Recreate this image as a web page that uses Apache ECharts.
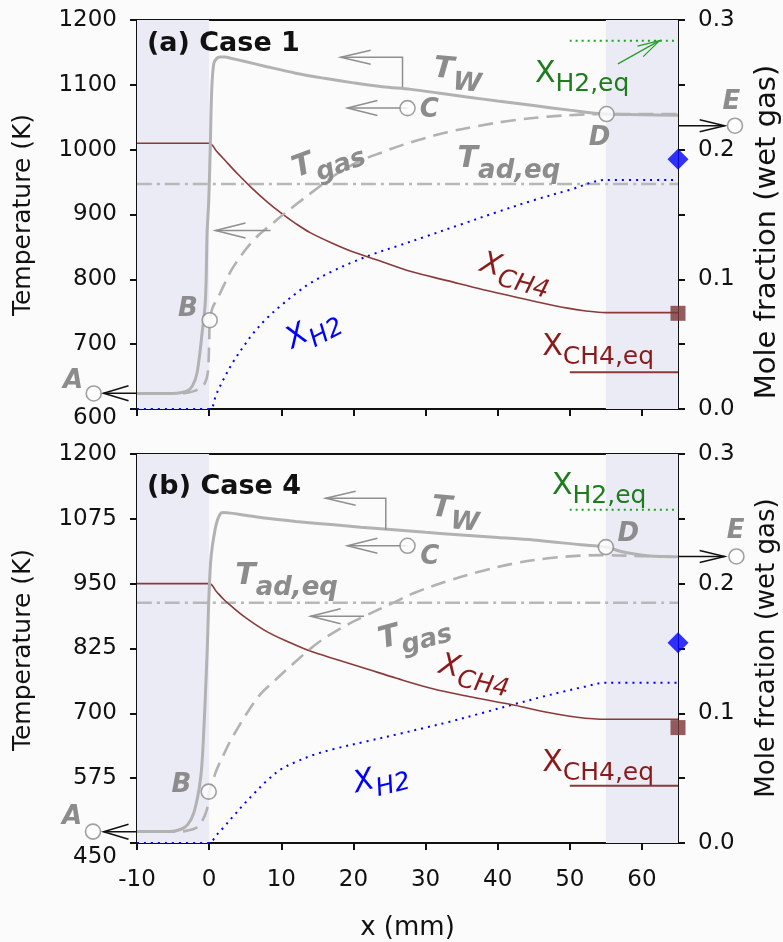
<!DOCTYPE html>
<html>
<head>
<meta charset="utf-8">
<script src="https://cdn.jsdelivr.net/npm/echarts@6/dist/echarts.min.js"></script>
<style>
html,body{margin:0;padding:0;background:#fbfbfb;}
#chart{width:783px;height:942px;}
</style>
</head>
<body>
<div id="chart"></div>
<script>
// ---------- axes ----------
const xTicks = [-10, 0, 10, 20, 30, 40, 50, 60];
const tempTicks1 = [600, 700, 800, 900, 1000, 1100, 1200];
const tempTicks2 = [450, 575, 700, 825, 950, 1075, 1200];
const moleTicks = [0, 0.05, 0.1, 0.15, 0.2, 0.25, 0.3];
const moleLabels = [0, 0.1, 0.2, 0.3];
const heatedZones = [[-10, 0], [55, 65]];

// ---------- Case 1 ----------
const wallT1 = [[-10,624],[-5,624],[-4,625],[-3,628],[-2.3,636],[-1.67,656],[-0.97,718],[-0.51,769],[-0.28,872],[-0.05,923],[0.15,1000],[0.35,1090],[0.64,1133],[1,1140],[1.5,1143],[2.2,1143],[3,1141],[5,1136],[8,1128],[12,1118],[16,1110],[20,1103],[24,1097],[28,1093],[32,1087],[36,1081],[40,1075],[45,1068],[50,1061],[55,1055],[60,1054],[65,1053]];
const gasT1 = [[-10,624],[-4,624],[-3,625],[-2,628],[-1.2,633],[-0.6,640],[-0.2,655],[0,700],[0.1,737],[0.5,757],[1.1,769],[2,790],[3.4,820],[6.2,861],[9.4,892],[12,915],[15.4,944],[18,965],[21,983],[24,996],[27,1008],[30,1018],[33,1027],[37,1036],[42,1045],[47,1051],[51.5,1054],[55,1055],[60,1055],[65,1055]];
const adEqT1 = [[-10,947],[65,947]];
const xCH4_1 = [[-10,0.205],[0,0.205],[1,0.199],[2,0.193],[4,0.181],[6,0.17],[8,0.16],[10,0.151],[12,0.143],[14,0.136],[17,0.128],[20,0.121],[24,0.1135],[28,0.106],[33,0.099],[38,0.092],[42,0.087],[46,0.082],[49.7,0.0778],[52,0.0758],[55,0.0743],[65,0.0743]];
const xH2_1 = [[-10,0],[0,0],[1,0.0115],[2,0.023],[3.4,0.037],[5,0.05],[6.2,0.059],[8,0.07],[10,0.08],[12,0.089],[14,0.097],[17,0.106],[20,0.1135],[23,0.12],[26,0.1255],[30,0.133],[35,0.1425],[40,0.152],[45,0.161],[50,0.169],[55,0.1766],[65,0.1766]];
const xCH4eq1 = [[50,0.0283],[65,0.0283]];
const xH2eq1 = [[50,0.284],[65,0.284]];
const exitH2_1 = [[65,0.1926]];
const exitCH4_1 = [[65,0.0738]];

// ---------- Case 4 ----------
const wallT2 = [[-10,472],[-5.5,472],[-4,476],[-3,485],[-2.1,509],[-1.2,573],[-0.8,650],[-0.3,810],[0.2,990],[0.9,1060],[1.5,1084],[2,1087],[3,1086],[5,1082],[8,1076],[12,1070],[17.3,1063.5],[21,1059],[24.7,1055],[30,1049],[35,1044],[40,1039],[45,1034],[51.5,1025],[55,1020.5],[57.1,1012],[59,1007],[60.8,1004],[63,1002.5],[65,1002]];
const gasT2 = [[-10,472],[-4,472],[-3,474],[-2,478],[-1.25,486],[-0.3,515],[0,549],[0.6,573],[1,590],[2,620],[3,648],[5,695],[7,735],[9,762],[12,800],[15,835],[18,862],[21.5,887],[25.5,913],[28.4,932],[33,955],[37.7,974],[42.3,989],[47,999],[51.5,1004],[55,1005],[60,1003],[65,1002]];
const adEqT2 = [[-10,913],[65,913]];
const xCH4_2 = [[-10,0.2],[0,0.2],[1,0.194],[2,0.188],[3,0.183],[5,0.174],[8,0.163],[11,0.155],[14,0.148],[18,0.141],[22,0.134],[26,0.127],[31,0.119],[36,0.113],[41.7,0.107],[47.2,0.1005],[51,0.097],[55,0.0954],[65,0.0954]];
const xH2_2 = [[-10,0],[0,0],[1,0.006],[2,0.012],[3.4,0.021],[5,0.031],[6.2,0.038],[8,0.048],[10,0.057],[12,0.0625],[14.5,0.068],[17.3,0.0725],[21.9,0.0785],[26.6,0.0845],[30,0.089],[33,0.093],[38,0.1005],[42.3,0.107],[46,0.1125],[49.3,0.117],[52,0.1205],[55,0.1236],[65,0.1236]];
const xCH4eq2 = [[50,0.0441],[65,0.0441]];
const xH2eq2 = [[50,0.257],[65,0.257]];
const exitH2_2 = [[65,0.1544]];
const exitCH4_2 = [[65,0.089]];

// ---------- state points A-E (x in mm, T in K) ----------
const stateNames = ['A', 'B', 'C', 'D', 'E'];
const stateX1 = [-16.0, 0.08, 27.5, 55.1, 72.9];
const stateT1 = [624, 737, 1064, 1055, 1037];
const stateX2 = [-16.1, -0.06, 27.5, 55.0, 73.1];
const stateT2 = [472, 549, 1023, 1020.5, 1002.5];
// where each letter sits (x in mm, T in K)
const letterPos1 = [[-18.85, 642.3], [-2.94, 753.8], [30.53, 1061.5], [54.14, 1017.7], [72.4, 1073]];
const letterPos2 = [[-18.99, 500], [-3.85, 561.5], [30.6, 1000], [58.1, 1046], [73, 1052]];

const FONT = 'DejaVu Sans';
const INK = '#111111';
const GRAY_LINE = '#b2b2b2';
const GRAY_TEXT = '#8c8c8c';
const ARROW_GRAY = '#8f8f8f';
const BROWN = '#8b3a3a';
const BROWN_TEXT = '#8b1a1a';
const BLUE = '#0000ff';
const GREEN = '#22a022';
const GREEN_TEXT = '#1e7b1e';
const BAND = '#ebebf6';

const chart = echarts.init(document.getElementById('chart'), null, {renderer: 'canvas'});

function xAxisFor(g, withLabels) {
  return {
    type: 'value', gridIndex: g, min: -10, max: 65,
    axisLine: {show: true, onZero: false, lineStyle: {color: INK, width: 2}},
    axisTick: {show: true, inside: false, length: 7, customValues: xTicks, lineStyle: {color: INK, width: 2}},
    axisLabel: {show: withLabels, customValues: xTicks, margin: 26, fontFamily: FONT, fontSize: 23, color: INK},
    splitLine: {show: false},
    name: withLabels ? 'x (mm)' : '', nameLocation: 'middle', nameGap: 72,
    nameTextStyle: {fontFamily: FONT, fontSize: 26, color: INK}
  };
}
function tempAxis(g, min, max, ticks, lowPad) {
  return {
    type: 'value', gridIndex: g, min: min, max: max, position: 'left',
    axisLine: {show: true, onZero: false, lineStyle: {color: INK, width: 2}},
    axisTick: {show: true, inside: false, length: 7, customValues: ticks, lineStyle: {color: INK, width: 2}},
    axisLabel: {
      customValues: ticks, margin: 20, fontFamily: FONT, fontSize: 23, color: INK,
      formatter: v => (v === min ? '{low|' + v + '}' : String(v)),
      rich: {low: {fontFamily: FONT, fontSize: 23, color: INK, padding: [lowPad, 0, 0, 0]}}
    },
    splitLine: {show: false}
  };
}
function moleAxis(g) {
  return {
    type: 'value', gridIndex: g, min: 0, max: 0.3, position: 'right',
    axisLine: {show: true, onZero: false, lineStyle: {color: INK, width: 2}},
    axisTick: {show: true, inside: false, length: 7, customValues: moleTicks, lineStyle: {color: INK, width: 2}},
    axisLabel: {customValues: moleLabels, margin: 20, fontFamily: FONT, fontSize: 23, color: INK,
      formatter: v => v.toFixed(1)},
    splitLine: {show: false}
  };
}

function line(g, onMole, data, color, width, type, z) {
  return {
    type: 'line', xAxisIndex: g, yAxisIndex: g * 2 + (onMole ? 1 : 0), data: data,
    showSymbol: false, symbol: 'none', smooth: 0.35, silent: true,
    lineStyle: {color: color, width: width, type: type || 'solid'}, z: z || 3
  };
}
function marker(g, data, symbol, size, color) {
  return {type: 'scatter', xAxisIndex: g, yAxisIndex: g * 2 + 1, data: data, symbol: symbol,
    symbolSize: size, clip: false, silent: true, itemStyle: {color: color}, z: 8};
}
function states(g, xs, ts) {
  return {type: 'scatter', xAxisIndex: g, yAxisIndex: g * 2, data: xs.map((x, i) => [x, ts[i]]),
    symbol: 'circle', symbolSize: 15, clip: false, silent: true,
    itemStyle: {color: '#ffffff', borderColor: '#888888', borderWidth: 1.6}, z: 10};
}
function bands(g, lowT) {
  return {type: 'line', xAxisIndex: g, yAxisIndex: g * 2, data: [[-10, lowT]], symbol: 'none',
    lineStyle: {width: 0}, silent: true, z: 0,
    markArea: {silent: true, itemStyle: {color: BAND}, data: heatedZones.map(r => [{xAxis: r[0]}, {xAxis: r[1]}])}};
}

// text annotations drawn as labels of invisible points
function richStyles(o) {
  const base = {fontFamily: FONT, fontStyle: o.italic ? 'italic' : 'normal',
    fontWeight: o.bold ? 'bold' : 'normal', color: o.color, verticalAlign: 'top'};
  return {
    m: Object.assign({}, base, {fontSize: o.m, lineHeight: o.m}),
    s: Object.assign({}, base, {fontSize: o.s || o.m, lineHeight: o.s || o.m, padding: [o.pad || 0, 0, 0, 0]})
  };
}
function note(pos, main, sub, o, rotDeg) {
  return {
    value: pos,
    label: {show: true, position: 'inside', rotate: rotDeg || 0, opacity: 1,
      formatter: '{m|' + main + '}' + (sub ? '{s|' + sub + '}' : ''), rich: richStyles(o)}
  };
}
function notes(g, items) {
  return {type: 'scatter', xAxisIndex: g, yAxisIndex: g * 2, data: items, symbol: 'circle',
    symbolSize: 1, itemStyle: {color: 'rgba(0,0,0,0)'}, clip: false, silent: true, z: 20,
    label: {show: true, opacity: 1}, labelLayout: {hideOverlap: false}};
}

const tLab = {italic: true, bold: true, color: GRAY_TEXT, m: 30, s: 26, pad: 14};
const letter = {italic: true, bold: true, color: GRAY_TEXT, m: 26};
const xItal = c => ({italic: true, bold: false, color: c, m: 30, s: 25, pad: 13});
const xUp = c => ({italic: false, bold: false, color: c, m: 30, s: 25, pad: 13});

const notes1 = [
  note([34.49, 1121.5], 'T', 'W', tLab, -5),
  note([16.39, 987.2], 'T', 'gas', tLab, 20),
  note([41.57, 984.6], 'T', 'ad,eq', tLab),
  note([51.71, 1116.9], 'X', 'H2,eq', xUp(GREEN_TEXT)),
  note([42.54, 810.8], 'X', 'CH4', xItal(BROWN_TEXT), -15),
  note([53.93, 695.4], 'X', 'CH4,eq', xUp(BROWN_TEXT)),
  note([14.35, 723], 'X', 'H2', xItal(BLUE), 28)
].concat(stateNames.map((n, i) => note(letterPos1[i], n, '', letter)));

const notes2 = [
  note([34.2, 1092.3], 'T', 'W', tLab, -5),
  note([28.4, 857.7], 'T', 'gas', tLab, 15),
  note([10.74, 963.5], 'T', 'ad,eq', tLab),
  note([54.07, 1138.5], 'X', 'H2,eq', xUp(GREEN_TEXT)),
  note([36.85, 778.8], 'X', 'CH4', xItal(BROWN_TEXT), -12),
  note([53.93, 603.8], 'X', 'CH4,eq', xUp(BROWN_TEXT)),
  note([23.8, 575], 'X', 'H2', xItal(BLUE), 14)
].concat(stateNames.map((n, i) => note(letterPos2[i], n, '', letter)));

function panelSeries(g, d) {
  return [
    bands(g, d.lowT),
    line(g, false, d.adEq, '#b8b8b8', 2.5, [15, 5, 3, 5], 2),
    line(g, true, d.xH2eq, GREEN, 2, [2, 4], 3),
    line(g, true, d.xCH4eq, BROWN, 2, 'solid', 3),
    line(g, true, d.xH2, BLUE, 2, [2, 5], 3),
    line(g, true, d.xCH4, BROWN, 1.6, 'solid', 4),
    line(g, false, d.gas, GRAY_LINE, 2.6, [15, 8], 5),
    line(g, false, d.wall, GRAY_LINE, 3, 'solid', 6),
    marker(g, d.exitH2, 'diamond', 21, BLUE),
    marker(g, d.exitCH4, 'rect', 15, '#7b3636'),
    states(g, d.sx, d.st),
    notes(g, d.notes)
  ];
}

chart.setOption({
  backgroundColor: '#fbfbfb',
  animation: false,
  grid: [
    {left: 137, top: 20, width: 541, height: 389, show: true, borderColor: INK, borderWidth: 2, backgroundColor: 'transparent'},
    {left: 137, top: 454, width: 541, height: 390, show: true, borderColor: INK, borderWidth: 2, backgroundColor: 'transparent'}
  ],
  xAxis: [xAxisFor(0, false), xAxisFor(1, true)],
  yAxis: [tempAxis(0, 600, 1200, tempTicks1, 18), moleAxis(0), tempAxis(1, 450, 1200, tempTicks2, 28), moleAxis(1)],
  series: [].concat(
    panelSeries(0, {lowT: 600, adEq: adEqT1, xH2eq: xH2eq1, xCH4eq: xCH4eq1, xH2: xH2_1, xCH4: xCH4_1,
      gas: gasT1, wall: wallT1, exitH2: exitH2_1, exitCH4: exitCH4_1, sx: stateX1, st: stateT1, notes: notes1}),
    panelSeries(1, {lowT: 450, adEq: adEqT2, xH2eq: xH2eq2, xCH4eq: xCH4eq2, xH2: xH2_2, xCH4: xCH4_2,
      gas: gasT2, wall: wallT2, exitH2: exitH2_2, exitCH4: exitCH4_2, sx: stateX2, st: stateT2, notes: notes2})
  )
});

// ---------- arrows ----------
function toPx(g, p) { return chart.convertToPixel({xAxisIndex: g, yAxisIndex: g * 2}, p); }
function arrow(g, pts, color, width, headLen, headHalf) {
  const px = pts.map(p => toPx(g, p));
  const tx = px[0][0], ty = px[0][1];
  const dx = px[1][0] - tx, dy = px[1][1] - ty, L = Math.hypot(dx, dy);
  const ux = dx / L, uy = dy / L;
  const w1 = [tx + ux * headLen - uy * headHalf, ty + uy * headLen + ux * headHalf];
  const w2 = [tx + ux * headLen + uy * headHalf, ty + uy * headLen - ux * headHalf];
  const st = {stroke: color, lineWidth: width, fill: null};
  return [
    {type: 'polyline', shape: {points: px}, style: st, z: 9, silent: true},
    {type: 'polyline', shape: {points: [w1, [tx, ty], w2]}, style: st, z: 9, silent: true}
  ];
}

const g = [];
// panel (a)
g.push(...arrow(0, [[18.24, 1142.6], [26.81, 1142.6], [26.81, 1096.5]], ARROW_GRAY, 1.5, 30, 7));
g.push(...arrow(0, [[19.17, 1064.2], [27.5, 1064.2]], ARROW_GRAY, 1.5, 30, 7.5));
g.push(...arrow(0, [[0.88, 875.4], [8.51, 875.4]], ARROW_GRAY, 1.5, 30, 7.5));
g.push(...arrow(0, [[-14.64, 624.2], [-10, 624.2]], INK, 1.5, 25, 7.5));
g.push(...arrow(0, [[71.47, 1037], [65, 1037]], INK, 1.5, 25, 6));
g.push(...arrow(0, [[62.44, 1168.2], [56.67, 1132.3]], GREEN, 1.2, 22, 6));
// panel (b)
g.push(...arrow(1, [[16.15, 1114.8], [24.49, 1114.8], [24.49, 1053.8]], ARROW_GRAY, 1.5, 30, 7));
g.push(...arrow(1, [[19.17, 1023], [27.5, 1023]], ARROW_GRAY, 1.5, 30, 7.5));
g.push(...arrow(1, [[14.07, 887.1], [21.47, 887.1]], ARROW_GRAY, 1.5, 30, 7.5));
g.push(...arrow(1, [[-14.64, 471.7], [-10, 471.7]], INK, 1.5, 25, 7.5));
g.push(...arrow(1, [[71.47, 1002.5], [65, 1002.5]], INK, 1.5, 25, 6));

// panel titles and side axis names
function plainText(x, y, text, size, rot, weight) {
  return {type: 'text', x: x, y: y, rotation: rot || 0, z: 50, silent: true,
    style: {text: text, fontFamily: FONT, fontSize: size, fontWeight: weight || 'normal', fill: INK,
      align: rot ? 'center' : 'left', verticalAlign: 'middle'}};
}
g.push(plainText(147, 44, '(a) Case 1', 27, 0, 'bold'));
g.push(plainText(147, 487, '(b) Case 4', 27, 0, 'bold'));
g.push(plainText(23, 215, 'Temperature (K)', 25, Math.PI / 2));
g.push(plainText(23, 650, 'Temperature (K)', 25, Math.PI / 2));
g.push(plainText(767, 232, 'Mole fraction (wet gas)', 29, Math.PI / 2));
g.push(plainText(767, 648, 'Mole frcation (wet gas)', 26, Math.PI / 2));

chart.setOption({graphic: g});
</script>
</body>
</html>
